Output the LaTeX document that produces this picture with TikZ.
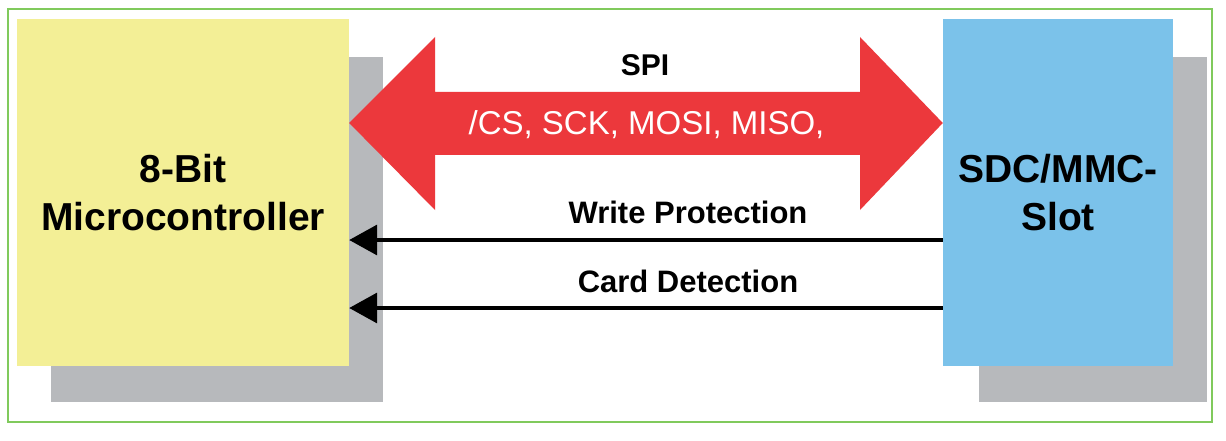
\documentclass[tikz,border=0pt]{standalone}
\usepackage{fontspec}
\setmainfont{Liberation Sans}
\usetikzlibrary{arrows.meta}
\definecolor{frameG}{RGB}{128,202,92}
\definecolor{mcuY}{RGB}{243,239,150}
\definecolor{shadowG}{RGB}{183,185,188}
\definecolor{slotB}{RGB}{123,194,234}
\definecolor{spiR}{RGB}{236,56,60}
\tikzset{
  frame/.style={draw=frameG, line width=2pt},
  shadowbox/.style={fill=shadowG},
  block/.style={inner sep=0pt, align=center,
    font=\fontsize{39pt}{48pt}\selectfont\bfseries},
  spiarrow/.style={fill=spiR},
  sig/.style={draw=black, line width=3.5pt, -{Triangle[length=28pt,width=30pt]}},
  lbl/.style={inner sep=0pt, anchor=base, font=\fontsize{31pt}{36pt}\selectfont\bfseries},
  spilbl/.style={inner sep=0pt, anchor=base, font=\fontsize{30pt}{34pt}\selectfont\bfseries},
  buslbl/.style={inner sep=0pt, anchor=base, text=white, font=\fontsize{33pt}{38pt}\selectfont},
}
\begin{document}
\begin{tikzpicture}[x=1pt,y=-1pt]
\useasboundingbox (0,0) rectangle (1226,441);
\fill[white] (0,0) rectangle (1226,441);
\draw[frame] (8,9) rectangle (1212,422);
% shadows
\fill[shadowbox] (51,57) rectangle (383,402);
\fill[shadowbox] (979,57) rectangle (1207,402);
% blocks
\node[block, fill=mcuY, minimum width=332pt, minimum height=347pt] (mcu) at (183,192.5) {8-Bit\\Microcontroller};
\node[block, fill=slotB, minimum width=230pt, minimum height=347pt] (slot) at (1058,192.5) {SDC/MMC-\\Slot};
% SPI double arrow
\coordinate (bus) at (0,123);
\fill[spiarrow] (mcu.east |- bus) -- (435,37) -- (435,92) -- (860,92) -- (860,37)
  -- (slot.west |- bus) -- (860,210) -- (860,155) -- (435,155) -- (435,210) -- cycle;
\node[spilbl] (spi) at (645,76) {SPI};
\node[buslbl] (sigs) at (646.5,135) {/CS, SCK, MOSI, MISO,};
% signal lines
\coordinate (wp) at (0,240);
\coordinate (cd) at (0,308);
\draw[sig] (slot.west |- wp) -- (mcu.east |- wp);
\draw[sig] (slot.west |- cd) -- (mcu.east |- cd);
\node[lbl] (wpl) at (688,223) {Write Protection};
\node[lbl] (cdl) at (688,292) {Card Detection};
\end{tikzpicture}
\end{document}
